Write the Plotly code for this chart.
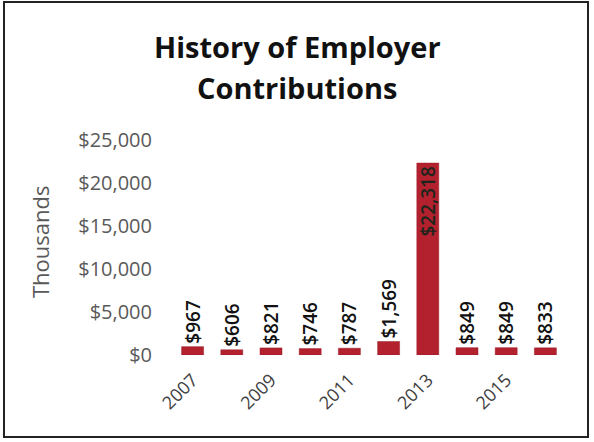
import plotly.graph_objects as go

years = ["2007", "2008", "2009", "2010", "2011", "2012", "2013", "2014", "2015", "2016"]
contributions = [967, 606, 821, 746, 787, 1569, 22318, 849, 849, 833]
labels = ["$" + format(v, ",") for v in contributions]
shown_years = ["2007", "2009", "2011", "2013", "2015"]
y_ticks = [0, 5000, 10000, 15000, 20000, 25000]
y_tick_text = ["$" + format(v, ",") for v in y_ticks]
title_lines = ["History of Employer", "Contributions"]

# tall bars carry their label inside the top end, short ones above the bar
positions = ["inside" if v > 10000 else "outside" for v in contributions]

W, H = 594, 442
L, R, T, B = 173, 565, 140, 355  # plot area in pixels
pw, ph = R - L, B - T

label_font = dict(family="Open Sans", size=19, color="#111111", weight=600)

fig = go.Figure(
    go.Bar(
        x=years,
        y=contributions,
        text=labels,
        textposition=positions,
        textangle=-90,
        insidetextanchor="end",
        constraintext="none",
        textfont=label_font,
        insidetextfont=dict(label_font, color="#1c241c"),
        outsidetextfont=label_font,
        marker=dict(color="#B3212F", line=dict(color="#9a1a26", width=0.5)),
        width=0.56,
        cliponaxis=False,
    )
)

fig.update_layout(
    width=W,
    height=H,
    margin=dict(l=L, r=W - R, t=T, b=H - B),
    paper_bgcolor="white",
    plot_bgcolor="white",
    showlegend=False,
    xaxis=dict(
        type="category",
        tickmode="array",
        tickvals=shown_years,
        ticktext=shown_years,
        tickangle=-45,
        tickfont=dict(family="Open Sans", size=18, color="#404040"),
        ticklabelstandoff=10,
        showgrid=False,
        showline=False,
        ticks="",
    ),
    yaxis=dict(
        range=[0, 25000],
        tickmode="array",
        tickvals=y_ticks,
        ticktext=y_tick_text,
        tickfont=dict(family="Open Sans", size=20, color="#595959"),
        ticklabelstandoff=20,
        showgrid=False,
        zeroline=False,
        showline=False,
        ticks="",
    ),
)

# two-line bold title
for i, line in enumerate(title_lines):
    fig.add_annotation(
        text="<b>" + line + "</b>",
        xref="paper", yref="paper",
        x=(297 - L) / pw, y=(B - (46 + 41 * i)) / ph,
        xanchor="center", yanchor="middle",
        showarrow=False,
        font=dict(family="Open Sans", size=29, color="#111111"),
    )

# vertical axis caption
fig.add_annotation(
    text="Thousands",
    xref="paper", yref="paper",
    x=(40 - L) / pw, y=(B - 242) / ph,
    xanchor="center", yanchor="middle",
    textangle=-90,
    showarrow=False,
    font=dict(family="Open Sans", size=22, color="#595959"),
)

# frame around the whole chart
fig.add_shape(
    type="rect",
    xref="paper",
    yref="paper",
    x0=(4 - L) / pw,
    x1=(588 - L) / pw,
    y0=(B - 437) / ph,
    y1=(B - 2) / ph,
    line=dict(color="#222222", width=2),
    fillcolor="rgba(0,0,0,0)",
    layer="below",
)

fig.write_html("out.html")
